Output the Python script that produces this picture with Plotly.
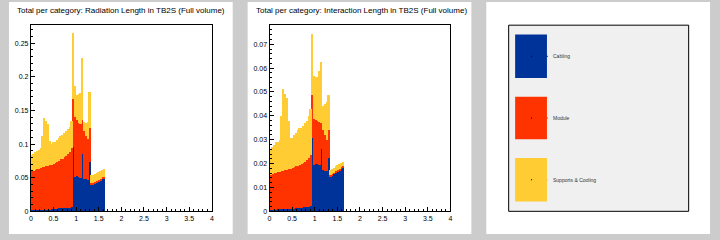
import plotly.graph_objects as go

W, H = 720, 240
BIN_WIDTH = 0.04
N_BINS = 41
eta_centers = [BIN_WIDTH * (i + 0.5) for i in range(N_BINS)]

categories = ["Cabling", "Module", "Supports & Cooling"]
colors = ["#003399", "#ff3300", "#ffcc33"]

# Radiation length: stack levels
rad_cabling = [0.002, 0.002, 0.002, 0.002, 0.002, 0.003, 0.003, 0.003, 0.003, 0.003, 0.003,
               0.004, 0.004, 0.004, 0.004, 0.005, 0.005, 0.005, 0.005, 0.006, 0.006, 0.006, 0.007,
               0.096, 0.052, 0.053, 0.052, 0.050, 0.086, 0.049, 0.048, 0.047, 0.074, 0.040,
               0.041, 0.042, 0.044, 0.045, 0.047, 0.049, 0.050]
rad_module_top = [0.060, 0.061, 0.062, 0.063, 0.064, 0.065, 0.066, 0.067, 0.068, 0.068, 0.069,
                  0.070, 0.071, 0.072, 0.074, 0.076, 0.078, 0.079, 0.081, 0.083, 0.085, 0.088, 0.094,
                  0.168, 0.140, 0.136, 0.132, 0.130, 0.137, 0.120, 0.113, 0.108, 0.125, 0.042,
                  0.043, 0.044, 0.046, 0.047, 0.049, 0.051, 0.052]
rad_total = [0.084, 0.085, 0.089, 0.090, 0.092, 0.094, 0.112, 0.139, 0.135, 0.131, 0.105,
             0.101, 0.103, 0.104, 0.107, 0.110, 0.112, 0.114, 0.117, 0.120, 0.123, 0.126, 0.135,
             0.265, 0.187, 0.173, 0.175, 0.176, 0.228, 0.133, 0.132, 0.134, 0.178, 0.054,
             0.055, 0.056, 0.057, 0.059, 0.060, 0.062, 0.064]

# Interaction length
int_cabling = [0.0007, 0.0007, 0.0008, 0.0008, 0.0009, 0.0009, 0.0010, 0.0010, 0.0011, 0.0011, 0.0012,
               0.0012, 0.0013, 0.0013, 0.0014, 0.0015, 0.0016, 0.0017, 0.0018, 0.0019, 0.0020, 0.0021, 0.0022,
               0.0308, 0.0195, 0.0200, 0.0198, 0.0195, 0.0264, 0.0175, 0.0172, 0.0172, 0.0225, 0.0148,
               0.0152, 0.0158, 0.0163, 0.0168, 0.0174, 0.0179, 0.0184]
int_module_top = [0.0155, 0.0158, 0.0160, 0.0162, 0.0165, 0.0167, 0.0170, 0.0172, 0.0174, 0.0176, 0.0178,
                  0.0180, 0.0183, 0.0186, 0.0190, 0.0193, 0.0196, 0.0200, 0.0205, 0.0210, 0.0218, 0.0226, 0.0237,
                  0.0487, 0.0390, 0.0385, 0.0380, 0.0375, 0.0370, 0.0340, 0.0320, 0.0300, 0.0340, 0.0154,
                  0.0158, 0.0164, 0.0169, 0.0174, 0.0180, 0.0185, 0.0190]
int_total = [0.026, 0.027, 0.028, 0.029, 0.029, 0.030, 0.040, 0.0515, 0.0495, 0.0477, 0.038,
             0.031, 0.031, 0.032, 0.033, 0.034, 0.035, 0.035, 0.036, 0.037, 0.038, 0.040, 0.043,
             0.0746, 0.057, 0.0565, 0.0565, 0.059, 0.0625, 0.0443, 0.045, 0.046, 0.049, 0.0175,
             0.0178, 0.0183, 0.019, 0.0195, 0.020, 0.0205, 0.021]

titles = ["Total per category: Radiation Length in TB2S (Full volume)",
          "Total per category: Interaction Length in TB2S (Full volume)"]


def split(cab, mod_top, tot):
    module = [m - c for m, c in zip(mod_top, cab)]
    support = [t - m for t, m in zip(tot, mod_top)]
    return [cab, module, support]


panels = [split(rad_cabling, rad_module_top, rad_total),
          split(int_cabling, int_module_top, int_total)]
y_ranges = [[0, 0.2775], [0, 0.0782]]
y_dticks = [0.05, 0.01]
y_minor = [0.01, 0.002]

fig = go.Figure()
FONT = "Liberation Sans, Arial, sans-serif"


def px(x):
    return x / W


def py(y):
    return 1 - y / H


# panel backgrounds
for x0 in [7, 247, 487]:
    fig.add_shape(type="rect", xref="paper", yref="paper", x0=px(x0), x1=px(x0 + 225),
                  y0=py(237), y1=py(2), fillcolor="white", line_width=0, layer="below")

for p, series in enumerate(panels):
    xa = "x" if p == 0 else "x2"
    ya = "y" if p == 0 else "y2"
    for name, vals, col in zip(categories, series, colors):
        fig.add_trace(go.Bar(x=eta_centers, y=vals, width=BIN_WIDTH, name=name,
                             marker=dict(color=col, line=dict(width=0)),
                             xaxis=xa, yaxis=ya, showlegend=False))
    left = 29 + 240 * p
    right = 211 + 240 * p
    axkw = dict(showline=True, linecolor="black", linewidth=1, mirror=True,
                showgrid=False, zeroline=False, ticks="inside",
                tickfont=dict(family=FONT, size=7, color="black"))
    xname = "xaxis" if p == 0 else "xaxis2"
    yname = "yaxis" if p == 0 else "yaxis2"
    fig.update_layout({
        xname: dict(domain=[px(left), px(right)], range=[0, 4], dtick=0.5, tick0=0,
                    ticklen=4, anchor=ya,
                    minor=dict(dtick=0.1, ticklen=2, ticks="inside", tickcolor="black"),
                    tickcolor="black", **axkw),
        yname: dict(domain=[py(214), py(25)], range=y_ranges[p], dtick=y_dticks[p], tick0=0,
                    ticklen=4, anchor=xa,
                    minor=dict(dtick=y_minor[p], ticklen=2, ticks="inside", tickcolor="black"),
                    tickcolor="black", **axkw),
    })
    fig.add_annotation(text=titles[p], xref="paper", yref="paper",
                       x=px(13 + 240 * p), y=py(11), xanchor="left", yanchor="middle",
                       showarrow=False, font=dict(family=FONT, size=8, color="black"))

# legend panel
fig.add_shape(type="rect", xref="paper", yref="paper", x0=px(509.5), x1=px(690.5),
              y0=py(214), y1=py(25.5), fillcolor="#f0f0f0", line=dict(color="black", width=1))
swatch_rows = [(35, 79), (98, 141), (160, 204)]
for (y0, y1), name, col in zip(swatch_rows, categories, colors):
    fig.add_shape(type="rect", xref="paper", yref="paper", x0=px(516), x1=px(548),
                  y0=py(y1), y1=py(y0), fillcolor=col, line_width=0)
    yc = (y0 + y1) / 2
    fig.add_shape(type="rect", xref="paper", yref="paper", x0=px(532), x1=px(533),
                  y0=py(yc + 0.5), y1=py(yc - 0.5), fillcolor="black", line_width=0)
    fig.add_shape(type="rect", xref="paper", yref="paper", x0=px(547), x1=px(549),
                  y0=py(yc + 0.5), y1=py(yc - 0.5), fillcolor=col, line_width=0)
    fig.add_annotation(text=name, xref="paper", yref="paper", x=px(552), y=py(yc),
                       xanchor="left", yanchor="middle", showarrow=False,
                       font=dict(family=FONT, size=5, color="#333333"))

fig.update_layout(width=W, height=H, margin=dict(l=0, r=0, t=0, b=0),
                  paper_bgcolor="#cccccc", plot_bgcolor="white",
                  barmode="stack", bargap=0, showlegend=False)

fig.write_html("out.html")
